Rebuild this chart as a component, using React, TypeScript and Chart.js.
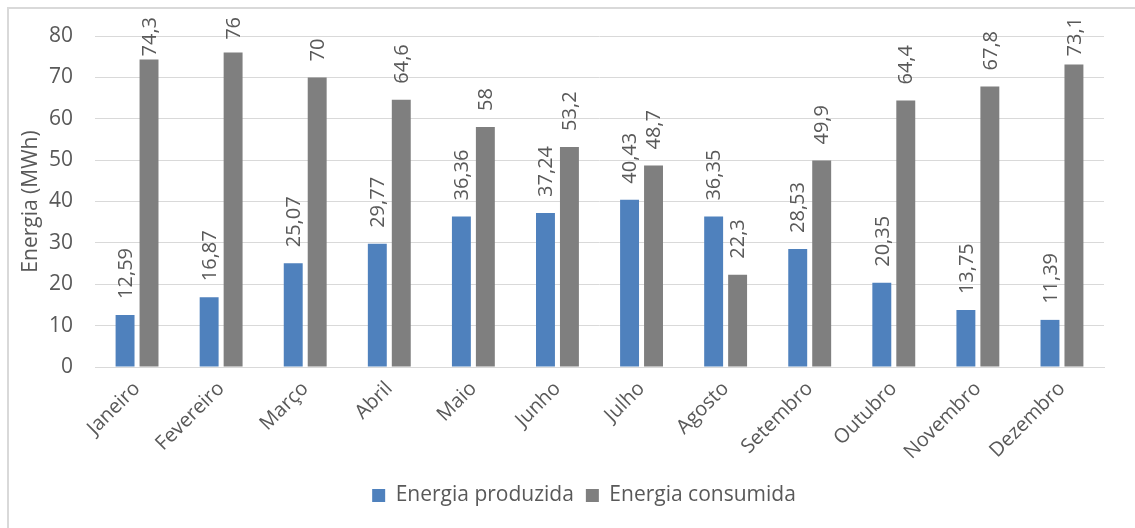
import React, { useEffect, useRef } from "react";
import { Chart, registerables } from "chart.js";

Chart.register(...registerables);

const meses = [
  "Janeiro", "Fevereiro", "Março", "Abril", "Maio", "Junho",
  "Julho", "Agosto", "Setembro", "Outubro", "Novembro", "Dezembro",
];
const energiaProduzida = [12.59, 16.87, 25.07, 29.77, 36.36, 37.24, 40.43, 36.35, 28.53, 20.35, 13.75, 11.39];
const energiaConsumida = [74.3, 76, 70, 64.6, 58, 53.2, 48.7, 22.3, 49.9, 64.4, 67.8, 73.1];
const yTicks = [0, 10, 20, 30, 40, 50, 60, 70, 80];

const FONT = "'Open Sans', 'Liberation Sans', sans-serif";
const TEXT = "#595959";
const GRID = "#d9d9d9";

// Writes each bar's value vertically above the bar, with a decimal comma.
// Labels that would run past the top of the canvas are pulled down to fit.
const valueLabels = {
  id: "valueLabels",
  afterDatasetsDraw(chart: any) {
    const ctx = chart.ctx;
    ctx.save();
    ctx.font = `20px ${FONT}`;
    ctx.fillStyle = TEXT;
    ctx.textAlign = "left";
    ctx.textBaseline = "middle";
    chart.data.datasets.forEach((ds: any, di: number) => {
      const meta = chart.getDatasetMeta(di);
      meta.data.forEach((bar: any, i: number) => {
        const text = String(ds.data[i]).replace(".", ",");
        const w = ctx.measureText(text).width;
        let start = bar.y - 16;
        if (start - w < 17) start = 17 + w;
        ctx.save();
        ctx.translate(bar.x + 1, start);
        ctx.rotate(-Math.PI / 2);
        ctx.fillText(text, 0, 0);
        ctx.restore();
      });
    });
    ctx.restore();
  },
};

// Moves the bottom legend so that it sits centred at x = 584.
const placeLegend = {
  id: "placeLegend",
  afterLayout(chart: any) {
    const lg = chart.legend;
    if (!lg) return;
    const shift = 584 - (lg.left + lg.right) / 2;
    lg.left += shift;
    lg.right += shift;
  },
};

export default function App() {
  const ref = useRef<HTMLCanvasElement | null>(null);

  useEffect(() => {
    if (!ref.current) return;
    const chart = new Chart(ref.current, {
      type: "bar",
      data: {
        labels: meses,
        datasets: [
          {
            label: "Energia produzida",
            data: energiaProduzida,
            backgroundColor: "#4f81bd",
            categoryPercentage: 0.57,
            barPercentage: 0.79,
          },
          {
            label: "Energia consumida",
            data: energiaConsumida,
            backgroundColor: "#7f7f7f",
            categoryPercentage: 0.57,
            barPercentage: 0.79,
          },
        ],
      },
      options: {
        animation: false,
        responsive: true,
        maintainAspectRatio: false,
        layout: { padding: { left: 0, right: 31, top: 36, bottom: 12 } },
        plugins: {
          tooltip: { enabled: false },
          legend: {
            position: "bottom",
            labels: {
              boxWidth: 13,
              boxHeight: 13,
              padding: 12,
              color: TEXT,
              font: { family: FONT, size: 21 },
            },
          },
        },
        scales: {
          x: {
            grid: { display: false, drawTicks: false },
            border: { display: true, color: GRID, width: 1 },
            ticks: {
              color: TEXT,
              font: { family: FONT, size: 20 },
              maxRotation: 45,
              minRotation: 45,
              padding: 10,
              autoSkip: false,
            },
            afterFit(scale: any) {
              scale.height = 106;
            },
          },
          y: {
            min: 0,
            max: 80,
            afterBuildTicks(scale: any) {
              scale.ticks = yTicks.map((v) => ({ value: v }));
            },
            grid: { color: GRID, drawTicks: false },
            border: { display: false },
            ticks: {
              color: TEXT,
              font: { family: FONT, size: 21 },
              padding: 22,
            },
            title: {
              display: true,
              text: "Energia (MWh)",
              color: TEXT,
              font: { family: FONT, size: 21 },
              padding: { top: 18, bottom: 0 },
            },
            afterFit(scale: any) {
              scale.width = 95;
            },
          },
        },
      },
      plugins: [valueLabels, placeLegend],
    });
    return () => chart.destroy();
  }, []);

  return (
    <div
      style={{
        position: "fixed",
        left: 0,
        top: 0,
        width: 1135,
        height: 528,
        overflow: "hidden",
        background: "#ffffff",
      }}
    >
      <div
        style={{
          position: "absolute",
          left: 7,
          top: 7,
          width: 1200,
          height: 600,
          borderLeft: `2px solid ${GRID}`,
          borderTop: `2px solid ${GRID}`,
        }}
      />
      <div style={{ position: "absolute", left: 0, top: 0, width: 1135, height: 528 }}>
        <canvas ref={ref} style={{ display: "block" }} />
      </div>
    </div>
  );
}
